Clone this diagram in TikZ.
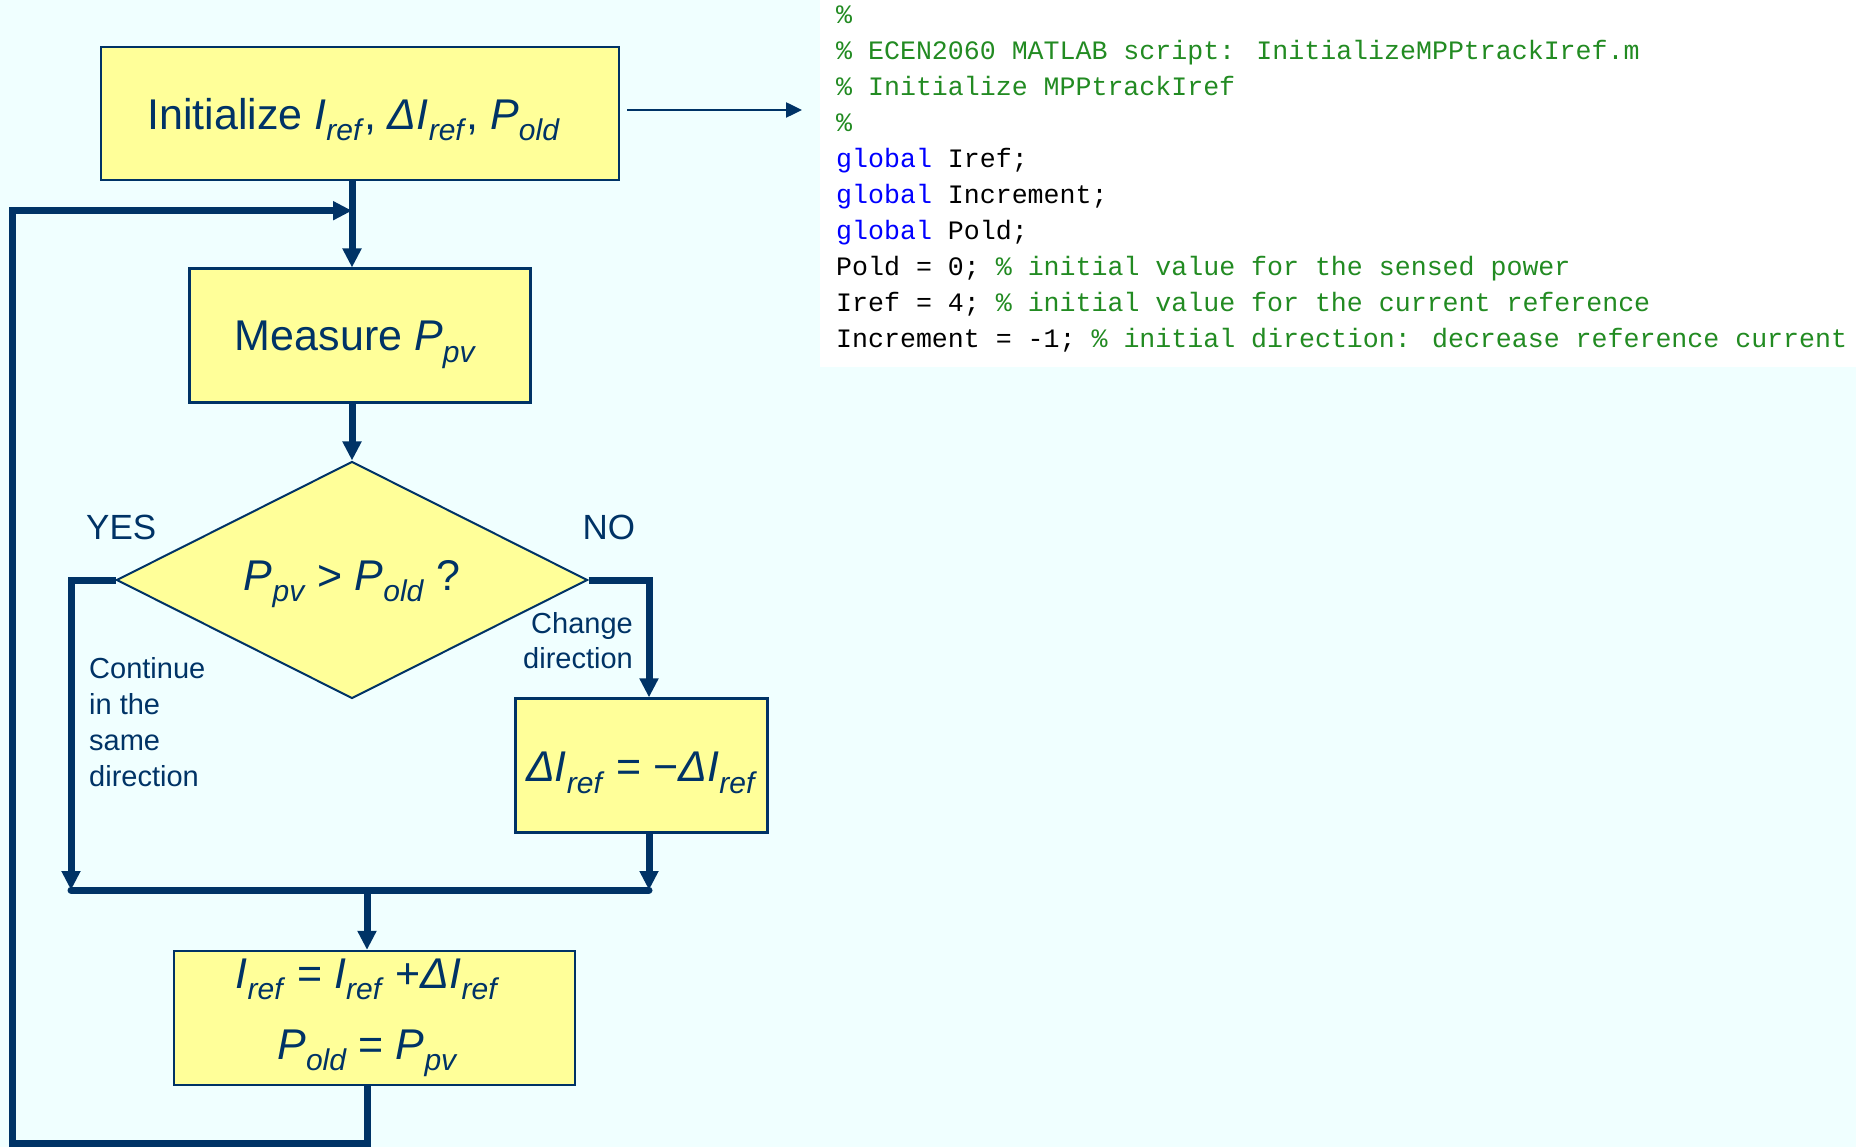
\documentclass[tikz,border=0pt]{standalone}
\usepackage{fontspec}
\setmainfont{Liberation Sans}
\newfontfamily\codefont{Liberation Mono}
\usetikzlibrary{arrows.meta,shapes.geometric}
\definecolor{navy}{RGB}{0,51,102}
\definecolor{bgc}{RGB}{240,255,255}
\definecolor{boxy}{RGB}{255,255,153}
\definecolor{cgreen}{RGB}{34,139,34}
\definecolor{kblue}{RGB}{0,0,255}
\newcommand\vv[2]{\textit{#1}\raisebox{-0.27em}{\fontsize{30}{36}\selectfont\textit{#2}}}
\newcommand\bigtxt{\fontsize{43}{52}\selectfont}
\begin{document}
\begin{tikzpicture}[x=1pt,y=-1pt,
  procbox/.style={rectangle,draw=navy,line width=2.2pt,fill=boxy,inner sep=0pt,text=navy,font=\bigtxt},
  decision/.style={diamond,draw=navy,line width=2pt,fill=boxy,inner sep=0pt,text=navy,font=\bigtxt,
    aspect=1.99,minimum width=471pt,minimum height=237pt},
  codeline/.style={inner sep=0pt,anchor=base west,font=\codefont\fontsize{26.6}{30}\selectfont},
  lbl/.style={inner sep=0pt,text=navy},
  thickline/.style={draw=navy,line width=7pt},
  thickarr/.style={thickline,-{Triangle[length=19pt,width=18pt]}},
  thinarr/.style={draw=navy,line width=2.5pt,-{Triangle[length=16pt,width=15pt]}}]
\fill[bgc] (0,0) rectangle (1856,1147);
\useasboundingbox (0,0) rectangle (1856,1147);
\fill[white] (820,0) rectangle (1856,367);

% code listing
\node[codeline] (c1) at (836,24) {\textcolor{cgreen}{\%}};
\node[codeline] (c2) at (836,59.1) {\textcolor{cgreen}{\% ECEN2060 MATLAB script: InitializeMPPtrackIref.m}};
\node[codeline] (c3) at (836,95.2) {\textcolor{cgreen}{\% Initialize MPPtrackIref}};
\node[codeline] (c4) at (836,131.3) {\textcolor{cgreen}{\%}};
\node[codeline] (c5) at (836,167.4) {\textcolor{kblue}{global} Iref;};
\node[codeline] (c6) at (836,203.5) {\textcolor{kblue}{global} Increment;};
\node[codeline] (c7) at (836,239.6) {\textcolor{kblue}{global} Pold;};
\node[codeline] (c8) at (836,275.7) {Pold = 0; \textcolor{cgreen}{\% initial value for the sensed power}};
\node[codeline] (c9) at (836,311.8) {Iref = 4; \textcolor{cgreen}{\% initial value for the current reference}};
\node[codeline] (c10) at (836,347.9) {Increment = -1; \textcolor{cgreen}{\% initial direction: decrease reference current}};

% flowchart nodes
\node[procbox,minimum width=518pt,minimum height=133pt,text height=40pt,text depth=9pt] (init) at (360,113.6)
  {Initialize \vv{I}{ref}, \vv{ΔI}{ref}, \vv{P}{old}\hspace*{13pt}};
\node[procbox,minimum width=341pt,minimum height=134pt,text height=40pt,text depth=9.5pt] (meas) at (360,335.6)
  {Measure \vv{P}{pv}\hspace*{9pt}};
\node[decision,text height=32pt,text depth=12pt] (dia) at (352,580) {\vv{P}{pv} > \vv{P}{old} ?};
\node[procbox,minimum width=252pt,minimum height=134pt,text height=40pt,text depth=8pt] (delta) at (641.5,765.5)
  {\vv{ΔI}{ref} = −\vv{ΔI}{ref}};
\node[procbox,minimum width=401pt,minimum height=134pt,align=center,font=\fontsize{43}{71}\selectfont] (upd) at (374.5,1018)
  {\vv{I}{ref} = \vv{I}{ref} +\vv{ΔI}{ref}\hspace*{14pt}\\\vv{P}{old} = \vv{P}{pv}\hspace*{14pt}};

% labels
\node[lbl,font=\fontsize{35}{40}\selectfont,anchor=base west] (yes) at (86,539) {YES};
\node[lbl,font=\fontsize{35}{40}\selectfont,anchor=base west] (no) at (582.5,539) {NO};
\node[lbl,font=\fontsize{29}{36}\selectfont,align=left,anchor=north west] (cont) at (89,657)
  {Continue\\in the\\same\\direction};
\node[lbl,font=\fontsize{29}{35}\selectfont,align=right,anchor=north east] (chg) at (633,612)
  {Change\\direction};

% coordinates
\coordinate (spine) at (352,0);
\coordinate (spineB) at (367,0);
\coordinate (colR) at (649,0);
\coordinate (codeptr) at (802,110);
\coordinate (mergeL) at (71,890);
\coordinate (mergeR) at (649,890);
\coordinate (loopB) at (12,1143.5);
\coordinate (loopT) at (12,210.7);
\coordinate (join) at (352,210.7);

% connectors
\draw[thinarr] (init.east |- codeptr) ++(7,0) -- (codeptr);
\draw[thickarr] (init.south -| spine) -- (meas.north -| spine);
\draw[thickarr] (meas.south -| spine) -- (dia.north);
\draw[thickarr] (dia.west) -| (mergeL);
\draw[thickarr] (dia.east) -| (delta.north -| colR);
\draw[thickarr] (delta.south -| colR) -- (mergeR);
\draw[thickline,line cap=round] (mergeL) -- (mergeR);
\draw[thickarr] (mergeL -| spineB) -- (upd.north -| spineB);
\draw[thickarr] (upd.south -| spineB) |- (loopB) -- (loopT) -- (join);
\end{tikzpicture}
\end{document}
